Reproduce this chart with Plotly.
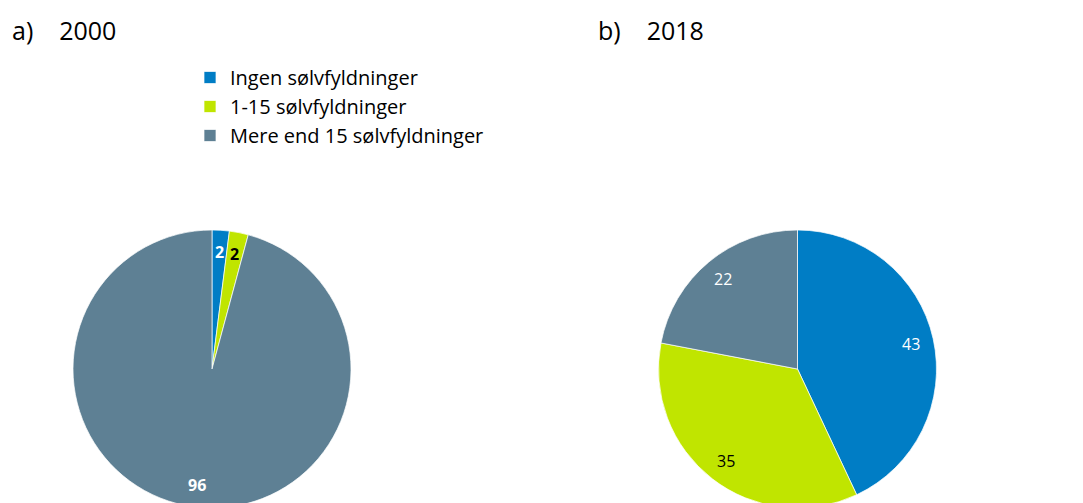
import math
import plotly.graph_objects as go

categories = ["Ingen sølvfyldninger", "1-15 sølvfyldninger", "Mere end 15 sølvfyldninger"]
values_2000 = [2.0, 2.2, 95.8]
values_2018 = [43, 35, 22]
titles = ["a)    2000", "b)    2018"]

colors = ["#007DC5", "#C0E500", "#5E8094"]
label_colors = ["white", "black", "white"]

W, H = 1083, 503
FONT = "Open Sans"

fig = go.Figure()

pies = [
    dict(vals=values_2000, cx=204, cy=361, r=139, legend="legend", bold=True),
    dict(vals=values_2018, cx=789.5, cy=361, r=139, legend="legend2", bold=False),
]

for p in pies:
    dom_x = [(p["cx"] - p["r"]) / W, (p["cx"] + p["r"]) / W]
    dom_y = [1 - (p["cy"] + p["r"]) / H, 1 - (p["cy"] - p["r"]) / H]
    dom_y = [max(0, dom_y[0]), min(1, dom_y[1])]
    fig.add_trace(go.Pie(
        labels=categories, values=p["vals"], sort=False, direction="clockwise",
        rotation=0, marker=dict(colors=colors, line=dict(color="white", width=0.7)),
        textinfo="none", hoverinfo="label+value",
        domain=dict(x=dom_x, y=dom_y), legend=p["legend"],
    ))
    total = sum(p["vals"])
    cum = 0
    for v, lc in zip(p["vals"], label_colors):
        mid = (cum + v / 2) / total * 2 * math.pi
        cum += v
        rr = p["r"] * 0.84
        px = p["cx"] + rr * math.sin(mid)
        py = p["cy"] - rr * math.cos(mid)
        lab = str(int(round(v)))
        txt = f"<b>{lab}</b>" if p["bold"] else lab
        fig.add_annotation(x=px / W, y=1 - py / H, xref="paper", yref="paper",
                           xanchor="center", yanchor="middle",
                           text=txt, showarrow=False,
                           font=dict(family=FONT, size=16, color=lc))

for i, t in enumerate(titles):
    fig.add_annotation(x=(2 if i == 0 else 588) / W, y=1 - 22 / H, xref="paper", yref="paper",
                       xanchor="left", yanchor="middle", text=t, showarrow=False,
                       font=dict(family=FONT, size=25, color="black"))

leg_common = dict(xanchor="left", yanchor="top", font=dict(family=FONT, size=20, color="black"),
                  bgcolor="rgba(0,0,0,0)", tracegroupgap=0, itemwidth=30)
fig.update_layout(
    width=W, height=H, margin=dict(l=0, r=0, t=0, b=0),
    paper_bgcolor="white", plot_bgcolor="white",
    showlegend=True,
    legend=dict(x=182 / W, y=1 - 50 / H, **leg_common),
    legend2=dict(x=768 / W, y=1 - 50 / H, **leg_common),
)

fig.write_html("out.html")
